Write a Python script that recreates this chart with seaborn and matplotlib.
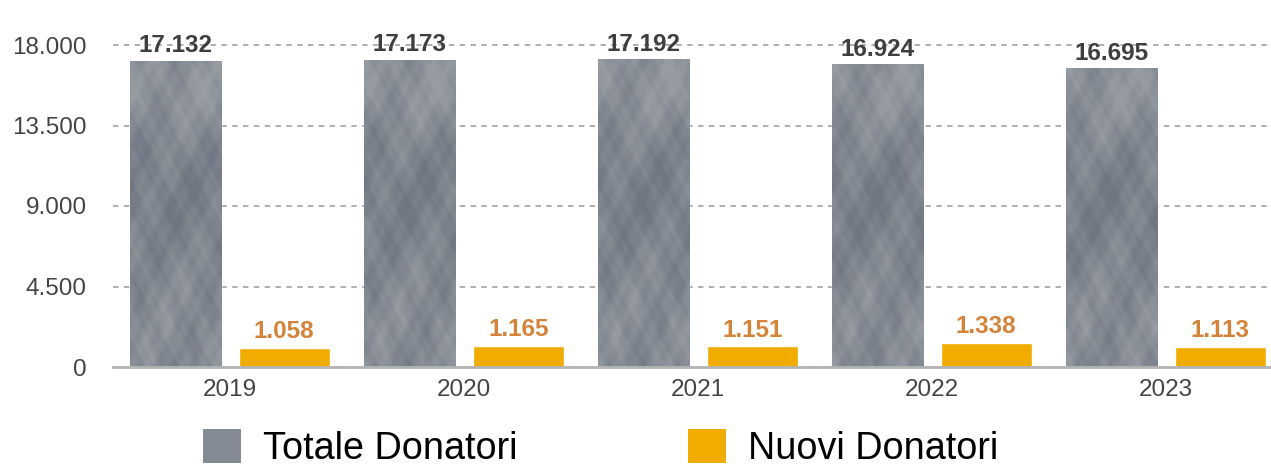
import numpy as np
import pandas as pd
import seaborn as sns
import matplotlib
matplotlib.use("Agg")
import matplotlib.pyplot as plt
from matplotlib.patches import Patch

# Donor counts per year
years = ["2019", "2020", "2021", "2022", "2023"]
totale = [17132, 17173, 17192, 16924, 16695]
nuovi = [1058, 1165, 1151, 1338, 1113]
series = ["Totale Donatori", "Nuovi Donatori"]
yticks = [0, 4500, 9000, 13500, 18000]


def fmt_it(v):
    return f"{v:,}".replace(",", ".")


df = pd.DataFrame({
    "Anno": years * 2,
    "Serie": [series[0]] * len(years) + [series[1]] * len(years),
    "Donatori": totale + nuovi,
})

sns.set_theme(style="white")
plt.rcParams["font.family"] = ["Liberation Sans", "DejaVu Sans"]

GRAY = "#858B94"
ORANGE = "#F0AC00"
ORANGE_TXT = "#D4843A"
TXT = "#444444"
VAL_TXT = "#3E3E3E"

W, H = 1271, 468
fig = plt.figure(figsize=(W / 100, H / 100), dpi=100)
ax = fig.add_axes([113 / W, 1 - 367 / H, 1 - 113 / W, 367 / H])

sns.barplot(data=df, x="Anno", y="Donatori", hue="Serie", hue_order=series,
            palette={series[0]: GRAY, series[1]: ORANGE}, saturation=1,
            width=0.928, gap=0.16, legend=False, ax=ax)


def stone_texture(h, w, phase):
    yy, xx = np.mgrid[0:1:complex(0, h), 0:1:complex(0, w)]
    n = (0.40 * np.sin(2 * np.pi * (1.3 * xx + 2.1 * yy) + phase)
         + 0.30 * np.sin(2 * np.pi * (-2.7 * xx + 3.9 * yy) + 1.7 * phase)
         + 0.22 * np.sin(2 * np.pi * (5.3 * xx + 9.1 * yy) + 0.6)
         + 0.15 * np.sin(2 * np.pi * (-7.9 * xx + 13.3 * yy) + 2.2)
         + 0.10 * np.sin(2 * np.pi * (11.0 * xx - 23.0 * yy) + phase))
    # lighter cap, darker slate middle, streaky lighter base
    top = 0.8 * np.exp(-((yy - 0.08) / 0.16) ** 2) * (0.6 + 0.4 * xx)
    mid = -0.6 * np.exp(-((yy - 0.45) / 0.2) ** 2)
    low = 0.35 * np.exp(-((yy - 0.85) / 0.15) ** 2) * np.cos(2 * np.pi * 2.5 * xx) ** 2
    v = n + top + mid + low
    light = np.array([152, 157, 163]) / 255.0
    dark = np.array([110, 118, 130]) / 255.0
    t = np.clip((v + 1.2) / 2.4, 0, 1)[..., None]
    return dark * (1 - t) + light * t


for i, bar in enumerate(ax.containers[0]):
    x0, y0 = bar.get_x(), bar.get_y()
    bw, bh = bar.get_width(), bar.get_height()
    tex = stone_texture(160, 50, 0.4 * i)
    im = ax.imshow(tex, extent=[x0, x0 + bw, y0, y0 + bh], origin="upper",
                   aspect="auto", interpolation="bicubic",
                   zorder=bar.get_zorder() + 0.1)
    im.set_clip_path(bar)

# value labels above bars
for bar, v in zip(ax.containers[0], totale):
    ax.annotate(fmt_it(v), (bar.get_x() + bar.get_width() / 2, v),
                xytext=(0, 6), textcoords="offset points", ha="center",
                va="baseline", fontsize=17.5, fontweight="bold",
                color=VAL_TXT, zorder=5)
for bar, v in zip(ax.containers[1], nuovi):
    ax.annotate(fmt_it(v), (bar.get_x() + bar.get_width() / 2, v),
                xytext=(0, 7), textcoords="offset points", ha="center",
                va="baseline", fontsize=17.5, fontweight="bold",
                color=ORANGE_TXT, zorder=5)

ax.set_xlim(-0.5, -0.5 + (W - 113) / 234)
ax.set_ylim(0, 18000 * 367 / 322)
ax.set_yticks(yticks, labels=[fmt_it(v) for v in yticks])
ax.set_xlabel("")
ax.set_ylabel("")

ax.yaxis.grid(True, linestyle=(0, (3, 3)), color="#A8A8A8", linewidth=1.3)
ax.xaxis.grid(False)
ax.set_axisbelow(True)
for s in ["top", "right", "left"]:
    ax.spines[s].set_visible(False)
ax.spines["bottom"].set_color("#B4B4B4")
ax.spines["bottom"].set_linewidth(2)
ax.spines["bottom"].set_zorder(6)

ax.tick_params(axis="y", length=0, labelsize=17.5, labelcolor=TXT, pad=19)
ax.tick_params(axis="x", length=0, labelsize=17.5, labelcolor=TXT, pad=9)

handles = [Patch(facecolor=GRAY, edgecolor="none"),
           Patch(facecolor=ORANGE, edgecolor="none")]
fig.legend(handles=handles, labels=series, loc="center left",
           bbox_to_anchor=(203 / W, 20 / H), ncol=2, frameon=False,
           fontsize=27.2, handlelength=1.0, handleheight=1.0,
           handletextpad=0.6, columnspacing=4.5, borderpad=0,
           borderaxespad=0, labelcolor="black")

fig.savefig("out.png", dpi=100)
